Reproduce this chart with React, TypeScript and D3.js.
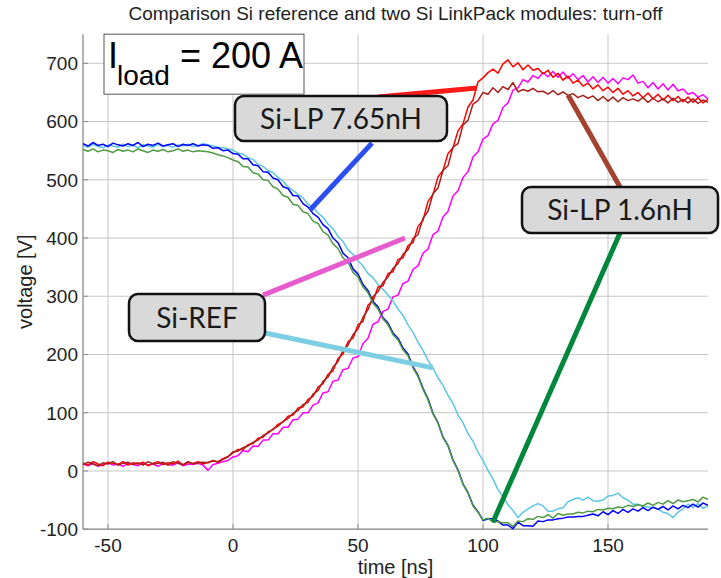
import * as d3 from 'd3'

// sampling grid of the scope traces [ns]
const tStart = -60
const tStep = 2

// Si reference module
const refRise = [12, 9, 13, 8, 11, 14, 10, 12, 8, 13, 11, 9, 14, 10, 12, 8, 13, 11, 10, 14, 9, 12, 11, 13, 10,
	1, 11, 13, 16, 18,
	24, 26, 35, 33, 43, 42, 53, 53, 64, 64, 75,
	75, 88, 89, 100, 100, 113, 117, 134, 136, 154,
	156, 174, 176, 194, 196, 219, 228, 252, 256, 274,
	278, 299, 302, 322, 326, 346, 352, 374, 381, 406,
	412, 436, 446, 472, 481, 504, 514, 539, 548, 570,
	576, 596, 602, 624, 632, 654, 658, 672, 668, 679,
	674, 684, 677, 686, 676, 685, 674, 682, 672, 679,
	668, 677, 667, 676, 666, 674, 665, 675, 672, 680,
	666, 669, 658, 667, 656, 665, 654, 664, 653, 656,
	647, 650, 642, 646, 639]
const refFall = [559, 556, 561, 557, 555, 560, 558, 556, 561, 557, 559, 555, 560, 558, 556, 561, 557, 559, 556, 560, 558, 561, 557, 559, 562,
	560, 558, 556, 555, 553,
	551, 546, 544, 538, 535, 527, 523, 516, 512, 504, 498,
	488, 482, 475, 469, 458, 453, 443, 436, 424, 416,
	403, 394, 380, 372, 361, 352, 339, 332, 320, 312,
	302, 292, 278, 267, 251, 238, 221, 207, 190, 177,
	160, 147, 130, 116, 96, 83, 64, 51, 32, 18,
	1, -14, -32, -44, -58, -68, -80, -71, -65, -60,
	-56, -60, -69, -69, -65, -63, -53, -49, -46, -50,
	-45, -51, -52, -50, -43, -42, -38, -46, -50, -57,
	-57, -61, -62, -63, -65, -71, -73, -80, -71, -65,
	-57, -63, -56, -64, -60]

// Si LinkPack 7.65 nH
const lp765Rise = [14, 10, 16, 12, 9, 15, 13, 11, 16, 10, 14, 12, 15, 9, 13, 16, 11, 14, 12, 17, 10, 15, 13, 16, 12,
	15, 17, 16, 21, 25,
	31, 37, 37, 45, 47, 56, 58, 67, 71, 80, 84,
	94, 96, 108, 110, 123, 128, 144, 150, 166, 172,
	193, 201, 222, 228, 251, 257, 285, 292, 316, 318,
	339, 342, 363, 366, 387, 392, 420, 430, 463, 475,
	505, 516, 545, 555, 584, 596, 625, 637, 668, 675,
	684, 690, 683, 699, 706, 694, 701, 689, 697, 688,
	691, 682, 688, 676, 683, 671, 678, 666, 671, 661,
	666, 656, 663, 653, 659, 650, 657, 647, 653, 644,
	650, 641, 649, 639, 647, 637, 645, 636, 643, 634,
	642, 633, 641, 632, 638]
const lp765Fall = [562, 558, 564, 559, 561, 557, 563, 560, 558, 562, 559, 564, 557, 561, 559, 563, 558, 560, 562, 557, 561, 559, 562, 558, 560,
	559, 554, 555, 550, 551,
	545, 544, 536, 536, 526, 524, 514, 513, 503, 500, 488,
	485, 473, 472, 459, 453, 442, 436, 423, 416, 400,
	392, 374, 366, 347, 338, 320, 310, 291, 282, 263,
	254, 237, 228, 211, 201, 179, 164, 142, 124, 99,
	83, 58, 44, 19, 2, -22, -37, -59, -70, -85,
	-82, -82, -86, -93, -93, -99, -88, -94, -94, -95,
	-86, -87, -84, -84, -82, -81, -79, -79, -78, -78,
	-76, -74, -77, -70, -75, -68, -73, -66, -71, -65,
	-69, -63, -68, -62, -66, -61, -67, -60, -65, -59,
	-63, -57, -62, -55, -59]

// Si LinkPack 1.6 nH
const lp16Rise = [11, 15, 12, 9, 14, 12, 16, 10, 13, 15, 11, 14, 10, 16, 12, 13, 15, 10, 16, 13, 11, 16, 12, 14, 15,
	14, 18, 15, 20, 24,
	33, 34, 40, 43, 49, 53, 61, 65, 72, 77, 85,
	90, 99, 104, 114, 118, 132, 138, 154, 161, 178,
	188, 207, 216, 234, 244, 264, 277, 299, 308, 324,
	333, 348, 356, 372, 380, 399, 406, 434, 446, 476,
	486, 516, 524, 556, 562, 594, 602, 630, 636, 650,
	647, 658, 650, 660, 655, 667, 651, 655, 652, 657,
	651, 652, 647, 653, 646, 651, 645, 648, 641, 645,
	640, 644, 636, 643, 635, 642, 634, 641, 636, 639,
	635, 641, 633, 640, 634, 639, 632, 640, 633, 638,
	632, 639, 631, 637, 633]
const lp16Fall = [552, 549, 553, 548, 551, 550, 547, 552, 549, 551, 548, 553, 550, 547, 551, 549, 552, 548, 550, 553, 549, 551, 548, 550, 549,
	548, 546, 543, 541, 538,
	534, 531, 523, 522, 512, 510, 500, 499, 488, 484, 473,
	470, 458, 456, 445, 442, 429, 425, 411, 405, 390,
	382, 366, 359, 341, 333, 316, 306, 288, 278, 261,
	251, 234, 225, 208, 198, 177, 162, 140, 122, 98,
	82, 57, 43, 18, 1, -23, -38, -60, -71, -84,
	-81, -88, -87, -89, -89, -95, -86, -87, -82, -83,
	-78, -80, -75, -81, -73, -76, -74, -74, -71, -72,
	-69, -70, -66, -67, -64, -65, -62, -63, -59, -61,
	-58, -60, -55, -59, -54, -57, -51, -56, -50, -53,
	-51, -49, -53, -45, -49]

const xTicks = [-50, 0, 50, 100, 150]
const yTicks = [-100, 0, 100, 200, 300, 400, 500, 600, 700]

// callout boxes [t0, t1, v0, v1] in data units
const boxes = [
	{ text: 'Si-LP 7.65nH', t0: 0.8, t1: 85.6, v0: 644, v1: 566.5 },
	{ text: 'Si-LP 1.6nH', t0: 115.6, t1: 194, v0: 487.5, v1: 408.5 },
	{ text: 'Si-REF', t0: -41.6, t1: 12.8, v0: 304, v1: 223 },
]
// callout pointers [t, v] -> [t, v]
const pointers = [
	{ from: [58, 642], to: [97.6, 657.6], color: '#ff1a1a' },
	{ from: [55.6, 563], to: [30.8, 448], color: '#2b4ef0' },
	{ from: [134, 645.6], to: [154.8, 487.6], color: '#a3432f' },
	{ from: [154.8, 408.6], to: [104, -87.6], color: '#00873c' },
	{ from: [12, 302], to: [68.8, 400], color: '#e65ccf' },
	{ from: [12.8, 237], to: [80, 177], color: '#7ccfe3' },
]

const series = [
	{ values: refRise, color: '#ff00ff' },
	{ values: refFall, color: '#5cc6e4' },
	{ values: lp765Rise, color: '#ff0000' },
	{ values: lp765Fall, color: '#0000ff' },
	{ values: lp16Rise, color: '#a8201c' },
	{ values: lp16Fall, color: '#4f9a45' },
]

const font = 'Liberation Sans, Arial, sans-serif'

export default function App() {
	const width = 721
	const height = 578

	const x = d3.scaleLinear().domain([-60, 190]).range([83, 708])
	const y = d3.scaleLinear().domain([-100, 750]).range([529.2, 34.2])

	const line = d3
		.line<number>()
		.x((_, i) => x(tStart + i * tStep))
		.y((d) => y(d))

	const [x0, x1] = x.range()
	const [yb, yt] = y.range()

	// I_load box
	const lb = { x: x(-51.6), y: y(750), w: x(28.4) - x(-51.6), h: y(647) - y(750) }

	return (
		<svg width={width} height={height} style={{ position: 'absolute', left: 0, top: 0, background: '#fff' }}>
			<rect width={width} height={height} fill="#fff" />
			<text x={(x0 + x1) / 2} y={20} textAnchor="middle" fontFamily={font} fontSize={19} fill="#222">
				Comparison Si reference and two Si LinkPack modules: turn-off
			</text>

			{/* grid */}
			{xTicks.map((t) => (
				<line key={'gx' + t} x1={x(t)} x2={x(t)} y1={yb} y2={yt} stroke="#c6c6c6" strokeWidth={1} />
			))}
			{yTicks.map((v) => (
				<line key={'gy' + v} x1={x0} x2={x1} y1={y(v)} y2={y(v)} stroke="#c6c6c6" strokeWidth={1} />
			))}

			{/* axes */}
			<line x1={x0} x2={x0} y1={yb} y2={yt} stroke="#9a9a9a" strokeWidth={1.5} />
			<line x1={x0} x2={x1} y1={yb} y2={yb} stroke="#9a9a9a" strokeWidth={1.5} />
			{yTicks.map((v) => (
				<g key={'ty' + v}>
					<line x1={x0} x2={x0 + 5} y1={y(v)} y2={y(v)} stroke="#8a8a8a" />
					<text x={x0 - 5} y={y(v)} dy="0.36em" textAnchor="end" fontFamily={font} fontSize={19} fill="#222">
						{v}
					</text>
				</g>
			))}
			{xTicks.map((t) => (
				<g key={'tx' + t}>
					<line x1={x(t)} x2={x(t)} y1={yb} y2={yb - 5} stroke="#8a8a8a" />
					<text x={x(t)} y={yb + 23} textAnchor="middle" fontFamily={font} fontSize={19} fill="#222">
						{t}
					</text>
				</g>
			))}
			<text x={(x0 + x1) / 2} y={574} textAnchor="middle" fontFamily={font} fontSize={20} fill="#222">
				time [ns]
			</text>
			<text
				transform={`translate(32,${(yb + yt) / 2}) rotate(-90)`}
				textAnchor="middle"
				fontFamily={font}
				fontSize={20}
				fill="#222"
			>
				voltage [V]
			</text>

			{/* traces */}
			{series.map((s, i) => (
				<path key={'s' + i} d={line(s.values) ?? ''} fill="none" stroke={s.color} strokeWidth={1.5} strokeLinejoin="round" />
			))}

			{/* callout pointers */}
			{pointers.map((p, i) => (
				<line
					key={'p' + i}
					x1={x(p.from[0])}
					y1={y(p.from[1])}
					x2={x(p.to[0])}
					y2={y(p.to[1])}
					stroke={p.color}
					strokeWidth={5}
				/>
			))}

			{/* callout boxes */}
			{boxes.map((b) => {
				const bx = x(b.t0)
				const by = y(b.v0)
				const bw = x(b.t1) - bx
				const bh = y(b.v1) - by
				return (
					<g key={b.text}>
						<rect x={bx} y={by} width={bw} height={bh} rx={9} fill="#d9d9d9" stroke="#111" strokeWidth={2.5} />
						<text x={bx + bw / 2} y={by + bh / 2} dy="0.36em" textAnchor="middle" fontFamily="Lato, Carlito, sans-serif" fontSize={28} fill="#1a1a1a">
							{b.text}
						</text>
					</g>
				)
			})}

			{/* load current label */}
			<rect x={lb.x} y={lb.y} width={lb.w} height={lb.h} fill="#fff" stroke="#555" strokeWidth={1} />
			<text fontFamily={font} fill="#000">
				<tspan x={lb.x + 4} y={lb.y + 34} fontSize={36}>I</tspan>
				<tspan x={lb.x + 13} y={lb.y + 51} fontSize={28}>load</tspan>
				<tspan x={lb.x + 76} y={lb.y + 34} fontSize={36}>= 200 A</tspan>
			</text>
		</svg>
	)
}
